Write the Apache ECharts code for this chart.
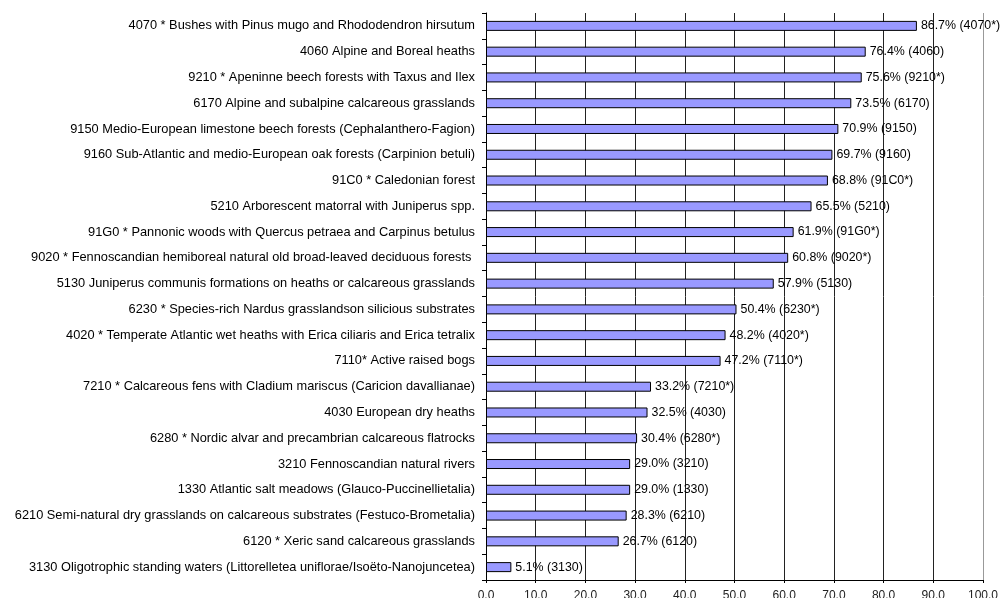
<!DOCTYPE html>
<html>
<head>
<meta charset="utf-8">
<script src="https://cdn.jsdelivr.net/npm/echarts@6/dist/echarts.min.js"></script>
<style>
html,body{margin:0;padding:0;background:#fff;}
#chart{width:1003px;height:598px;}
</style>
</head>
<body>
<div id="chart"></div>
<script>
const categories = [
  "4070 * Bushes with Pinus mugo and Rhododendron hirsutum",
  "4060 Alpine and Boreal heaths",
  "9210 * Apeninne beech forests with Taxus and Ilex",
  "6170 Alpine and subalpine calcareous grasslands",
  "9150 Medio-European limestone beech forests (Cephalanthero-Fagion)",
  "9160 Sub-Atlantic and medio-European oak forests (Carpinion betuli)",
  "91C0 * Caledonian forest",
  "5210 Arborescent matorral with Juniperus spp.",
  "91G0 * Pannonic woods with Quercus petraea and Carpinus betulus",
  "9020 * Fennoscandian hemiboreal natural old broad-leaved deciduous forests ",
  "5130 Juniperus communis formations on heaths or calcareous grasslands",
  "6230 * Species-rich Nardus grasslandson silicious substrates",
  "4020 * Temperate Atlantic wet heaths with Erica ciliaris and Erica tetralix",
  "7110* Active raised bogs",
  "7210 * Calcareous fens with Cladium mariscus (Caricion davallianae)",
  "4030 European dry heaths",
  "6280 * Nordic alvar and precambrian calcareous flatrocks",
  "3210 Fennoscandian natural rivers",
  "1330 Atlantic salt meadows (Glauco-Puccinellietalia)",
  "6210 Semi-natural dry grasslands on calcareous substrates (Festuco-Brometalia)",
  "6120 * Xeric sand calcareous grasslands",
  "3130 Oligotrophic standing waters (Littorelletea uniflorae/Isoëto-Nanojuncetea)"
];
const values = [86.7, 76.4, 75.6, 73.5, 70.9, 69.7, 68.8, 65.5, 61.9, 60.8, 57.9, 50.4, 48.2, 47.2, 33.2, 32.5, 30.4, 29.0, 29.0, 28.3, 26.7, 5.1];
const codes = ["4070*", "4060", "9210*", "6170", "9150", "9160", "91C0*", "5210", "91G0*", "9020*", "5130", "6230*", "4020*", "7110*", "7210*", "4030", "6280*", "3210", "1330", "6210", "6120", "3130"];
const xTicks = [0, 10, 20, 30, 40, 50, 60, 70, 80, 90, 100];

const gridColors = xTicks.map((t, i) => i === xTicks.length - 1 ? '#999999' : '#222222');

const chart = echarts.init(document.getElementById('chart'), null, {renderer: 'canvas'});
chart.setOption({
  animation: false,
  backgroundColor: '#ffffff',
  textStyle: {fontFamily: 'Liberation Sans, Arial, sans-serif'},
  grid: {left: 486, right: 20, top: 13, bottom: 18, containLabel: false, outerBoundsMode: 'none'},
  xAxis: {
    type: 'value',
    min: xTicks[0],
    max: xTicks[xTicks.length - 1],
    interval: 10,
    axisLine: {show: true, lineStyle: {color: '#000', width: 1}},
    axisTick: {show: true, length: 3, lineStyle: {color: '#000'}},
    axisLabel: {
      color: '#222',
      fontSize: 12,
      margin: 10,
      formatter: v => v.toFixed(1)
    },
    splitLine: {show: true, lineStyle: {color: gridColors, width: 1}}
  },
  yAxis: {
    type: 'category',
    inverse: true,
    data: categories,
    axisLine: {show: true, lineStyle: {color: '#000', width: 1}},
    axisTick: {show: true, length: 4, inside: false, lineStyle: {color: '#000'}},
    axisLabel: {color: '#000', fontSize: 12.8, margin: 11},
    splitLine: {show: false}
  },
  series: [{
    type: 'bar',
    data: values,
    barWidth: 10,
    itemStyle: {color: '#9999ff', borderColor: '#000', borderWidth: 1},
    label: {
      show: true,
      position: 'right',
      distance: 4,
      color: '#000',
      fontSize: 12.4,
      formatter: p => p.value.toFixed(1) + '% (' + codes[p.dataIndex] + ')'
    }
  }]
});
</script>
</body>
</html>
